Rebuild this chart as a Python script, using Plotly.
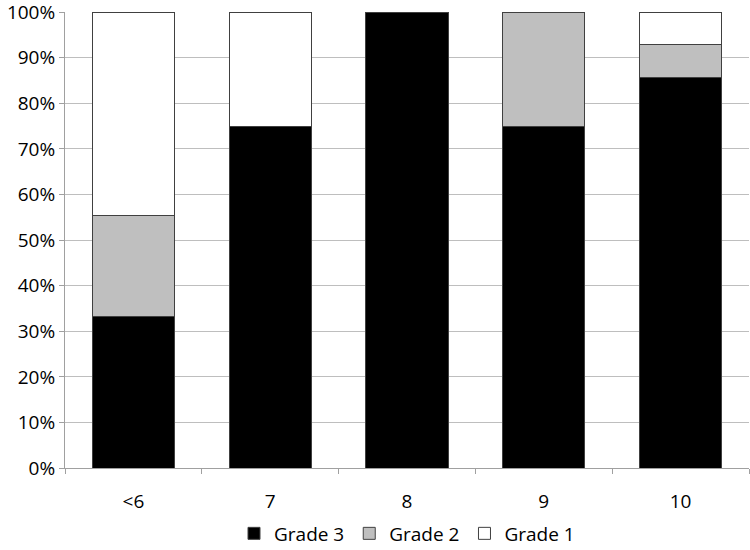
import plotly.graph_objects as go

# Share of each grade per category (percent)
categories = ["<6", "7", "8", "9", "10"]
grade3 = [33.3, 75.0, 100.0, 75.0, 85.7]
grade2 = [22.2, 0.0, 0.0, 25.0, 7.2]
grade1 = [44.5, 25.0, 0.0, 0.0, 7.1]
y_ticks = [0, 10, 20, 30, 40, 50, 60, 70, 80, 90, 100]

fig = go.Figure()
series = [("Grade 3", grade3, "#000000"),
          ("Grade 2", grade2, "#BFBFBF"),
          ("Grade 1", grade1, "#FFFFFF")]
for name, vals, color in series:
    fig.add_trace(go.Bar(
        x=categories, y=vals, name=name,
        marker=dict(color=color, line=dict(color="#404040", width=1)),
    ))

fig.update_layout(
    barmode="stack",
    bargap=0.4,
    width=750, height=550,
    margin=dict(l=65, r=1, t=12, b=82),
    plot_bgcolor="white",
    paper_bgcolor="white",
    font=dict(family="Open Sans", size=19, color="#000000"),
    legend=dict(orientation="h", x=0.5, xanchor="center",
                yref="container", y=0.03, yanchor="middle",
                font=dict(size=19), itemwidth=30, traceorder="normal"),
)

fig.update_yaxes(
    range=[0, 100.05], tickvals=y_ticks, ticktext=[f"{v}%" for v in y_ticks],
    showgrid=True, gridcolor="#BEBEBE", gridwidth=1,
    showline=True, linecolor="#A0A0A0", linewidth=1,
    ticks="outside", ticklen=5, tickcolor="#A0A0A0",
    tickfont=dict(size=19), zeroline=False, automargin=False,
    ticklabeloverflow="allow",
)
fig.update_xaxes(
    showline=True, linecolor="#A0A0A0", linewidth=1,
    ticks="outside", ticklen=5, tickcolor="#A0A0A0",
    tickson="boundaries", tickfont=dict(size=19),
    ticklabelstandoff=16, automargin=False,
)

fig.write_html("out.html", config={"displayModeBar": False},
               post_script="document.body.style.margin='0';")
